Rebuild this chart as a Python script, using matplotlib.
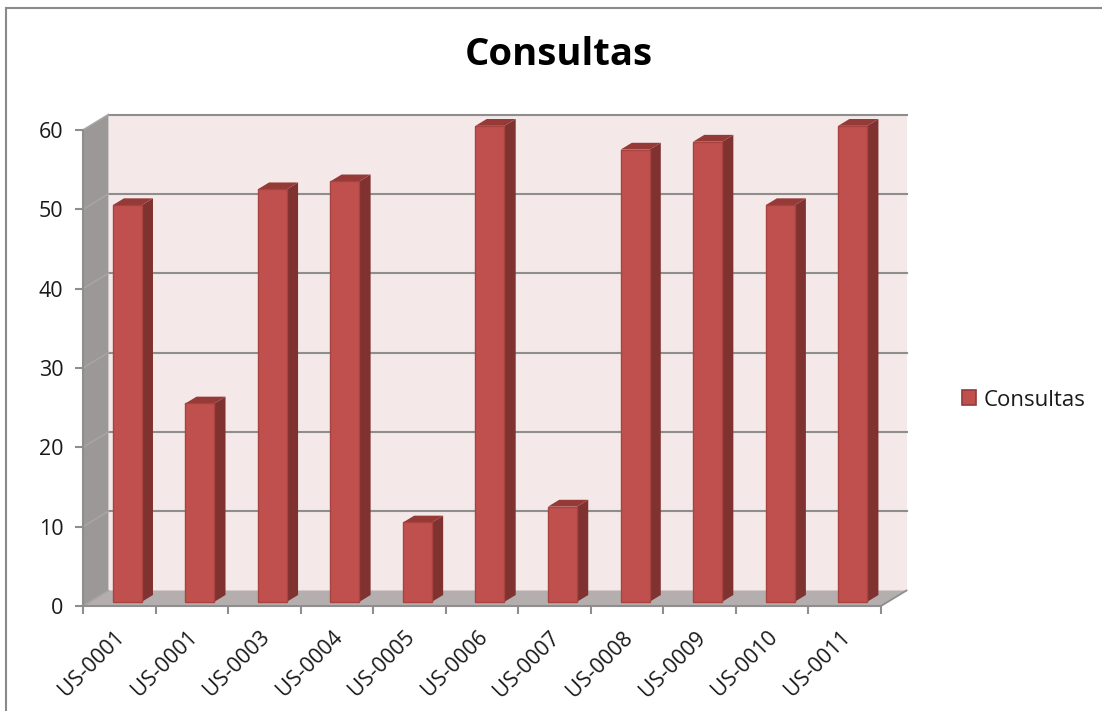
import matplotlib
matplotlib.use('Agg')
import matplotlib.pyplot as plt
from matplotlib.patches import Polygon, Patch
from matplotlib.lines import Line2D
from matplotlib.transforms import ScaledTranslation

categories = ['US-0001', 'US-0001', 'US-0003', 'US-0004', 'US-0005', 'US-0006',
              'US-0007', 'US-0008', 'US-0009', 'US-0010', 'US-0011']
consultas = [50, 25, 52, 53, 10, 60, 12, 57, 58, 50, 60]
y_ticks = [0, 10, 20, 30, 40, 50, 60]

plt.rcParams['font.family'] = ['Open Sans', 'DejaVu Sans']

W, H = 1102, 711
fig = plt.figure(figsize=(W / 100, H / 100), dpi=100)
ax = fig.add_axes([83 / W, (H - 606) / H, 798 / W, 476 / H])
ax.set_xlim(0, len(categories))
ax.set_ylim(0, 60)
ax.patch.set_visible(False)

# fake 3d depth, in data units
DX = 25.5 / (798 / len(categories))
DY = 15.5 / (476 / 60)
GRID = '#8e8e8e'
BAR_W = 0.4


def at(x, v, d):
    return (x + d * DX, v + d * DY)


def poly(points, color, edge='none', lw=0, z=1):
    ax.add_patch(Polygon(points, closed=True, facecolor=color, edgecolor=edge,
                         linewidth=lw, clip_on=False, zorder=z))


n = len(categories)
# back wall, side wall, floor
poly([at(0, 0, 1), at(n, 0, 1), at(n, 60, 1), at(0, 60, 1)], '#f4e8e8', z=1)
poly([at(0, 0, 0), at(0, 0, 1), at(0, 60, 1), at(0, 60, 0)], '#9c9897', z=1)
poly([at(0, 0, 0), at(n, 0, 0), at(n, 0, 1), at(0, 0, 1)], '#b5aeae', z=1)

# grid lines run along the wall and down the side
for v in y_ticks:
    if v > 0:
        p0, p1 = at(0, v, 1), at(n, v, 1)
        ax.plot([p0[0], p1[0]], [p0[1], p1[1]], color=GRID, lw=1.5, clip_on=False, zorder=2)
    p2, p3 = at(0, v, 0), at(0, v, 1)
    ax.plot([p2[0], p3[0]], [p2[1], p3[1]], color='#a8a4a3', lw=1.2, clip_on=False, zorder=2)
p0, p1 = at(n, 0, 0), at(n, 0, 1)
ax.plot([p0[0], p1[0]], [p0[1], p1[1]], color=GRID, lw=1.3, clip_on=False, zorder=2)

# bars
D0, D1 = 0.27, 0.71
for i, val in enumerate(consultas):
    x0 = i + 0.5 - BAR_W / 2 + 0.015
    x1 = x0 + BAR_W
    poly([at(x1, 0, D0), at(x1, 0, D1), at(x1, val, D1), at(x1, val, D0)], '#7f3230', z=3)
    poly([at(x0, val, D0), at(x1, val, D0), at(x1, val, D1), at(x0, val, D1)], '#953a37', z=3)
    poly([at(x0, 0, D0), at(x1, 0, D0), at(x1, val, D0), at(x0, val, D0)], '#c0504d',
         edge='#a8433f', lw=1.0, z=4)

for side in ['top', 'right']:
    ax.spines[side].set_visible(False)
for side in ['left', 'bottom']:
    ax.spines[side].set_color(GRID)
    ax.spines[side].set_linewidth(1.5)

ax.set_yticks(y_ticks)
ax.set_xticks(range(n + 1))
ax.set_xticklabels([])
ax.set_xticks([i + 0.5 for i in range(n)], minor=True)
ax.set_xticklabels(categories, minor=True, rotation=45, ha='right', rotation_mode='anchor',
                   fontsize=15.5, color='#1a1a1a')
ax.tick_params(axis='x', which='minor', length=0, pad=15)
ax.tick_params(axis='x', which='major', length=6, width=1.5, color=GRID)
ax.tick_params(axis='y', length=6, width=1.5, color=GRID, labelsize=15.5, labelcolor='#1a1a1a', pad=8)

# labels sit a bit left of the category centre
shift = ScaledTranslation(-5 / 100, 0, fig.dpi_scale_trans)
for lab in ax.get_xticklabels(minor=True):
    lab.set_transform(lab.get_transform() + shift)

fig.text(559 / W, 1 - 55 / H, 'Consultas', fontsize=27.5, fontweight='bold', ha='center', va='center',
         color='black')

ax.legend(handles=[Patch(facecolor='#c0504d', edgecolor='#953a37', linewidth=1.2, label='Consultas')],
          loc='center left', bbox_to_anchor=(962 / W, 1 - 400 / H), bbox_transform=fig.transFigure,
          frameon=False, fontsize=16, handlelength=0.65, handleheight=0.65, handletextpad=0.32,
          borderpad=0, borderaxespad=0, labelcolor='#1a1a1a')

# chart area border, only top and left show in the crop
fig.add_artist(Line2D([6 / W, 6 / W], [0, 1 - 8 / H], color='#8a8a8a', lw=1.5))
fig.add_artist(Line2D([6 / W, 1], [1 - 8 / H, 1 - 8 / H], color='#8a8a8a', lw=1.5))

fig.savefig('out.png', dpi=100)
